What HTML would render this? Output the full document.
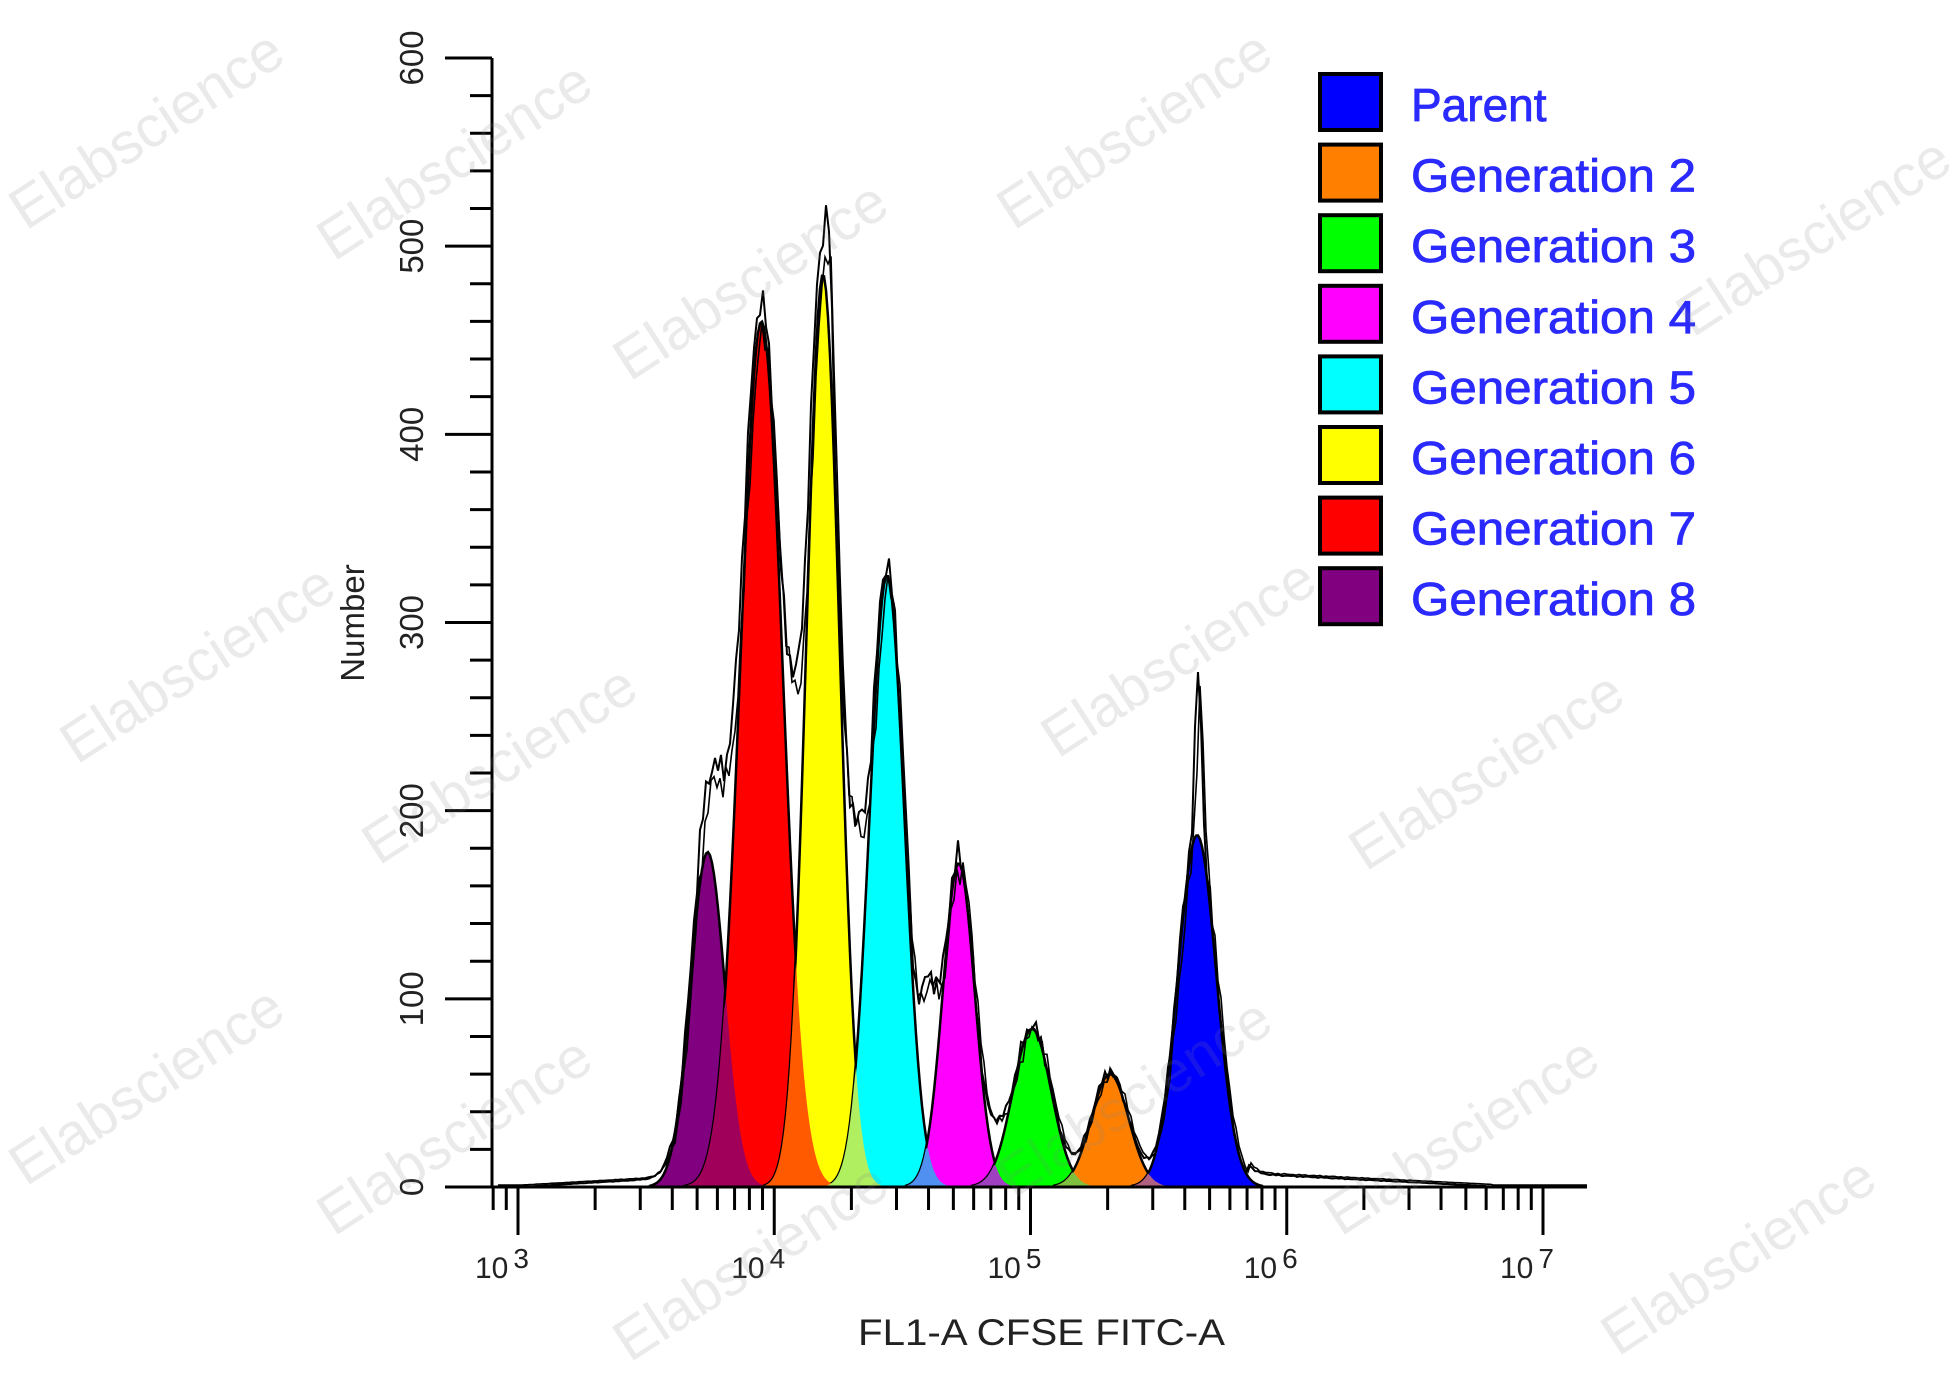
<!DOCTYPE html>
<html><head><meta charset="utf-8"><style>
html,body{margin:0;padding:0;background:#fff;}
svg{display:block}
text{font-family:"Liberation Sans",Arial,sans-serif}
</style></head><body>
<svg id="s" width="1950" height="1389" viewBox="0 0 1950 1389" xmlns="http://www.w3.org/2000/svg">
<rect width="1950" height="1389" fill="#fff"/>
<g id="plot"></g>
<g id="axes" stroke="#000" stroke-width="3" fill="none"></g>
<g id="lab" fill="#222"></g>
<g id="leg"></g>
<g id="wm" fill="#808080" fill-opacity="0.17" font-size="58"></g>
</svg>
<script>
(function(){
var NS="http://www.w3.org/2000/svg";
function el(p,t,a,txt){var e=document.createElementNS(NS,t);for(var k in a)e.setAttribute(k,a[k]);if(txt!=null)e.textContent=txt;document.getElementById(p).appendChild(e);return e;}
var X0=518,DEC=256.25,Y0=1187,YS=1.8817,AX0=492,AX1=1587;
function px(l){return X0+(l-3)*DEC;}
function lg(x){return 3+(x-X0)/DEC;}
function py(c){return Y0-c*YS;}
var P=[
 {c:3.74,h:178,s:0.067,col:"#800080"},
 {c:3.95,h:460,s:0.082,col:"#ff0000"},
 {c:4.19,h:485,s:0.064,col:"#ffff00"},
 {c:4.44,h:325,s:0.068,col:"#00ffff"},
 {c:4.72,h:172,s:0.062,col:"#ff00ff"},
 {c:5.006,h:84,s:0.075,col:"#00ff00"},
 {c:5.31,h:60,s:0.073,col:"#ff8000"},
 {c:5.65,h:187,s:0.075,col:"#0000ff"}];
var blend=["#a0005a","#ff5a00","#b0f060","#5090f0","#a040c0","#80c040","#b06080"];
function g(p,l){var d=(l-p.c)/p.s;return p.h*Math.exp(-0.5*d*d);}
var xs=[];for(var x=AX0+2;x<=AX1;x+=2)xs.push(x);
function poly(f,col,stroke){var xa=[];xs.forEach(function(x){var v=f(lg(x));if(v>0.5){xa.push(x);}});
 if(!xa.length)return;var a=xa[0],b=xa[xa.length-1];
 var d="M"+a+","+Y0;for(var x=a;x<=b;x+=2){d+=" L"+x+","+py(f(lg(x))).toFixed(1);}d+=" L"+b+","+Y0+"Z";
 el("plot","path",{d:d,fill:col,stroke:stroke?"#000":"none","stroke-width":stroke?2.5:0});}
P.forEach(function(p){poly(function(l){return g(p,l);},p.col,true);});
for(var i=0;i<P.length-1;i++){(function(a,b,c){poly(function(l){return Math.min(g(a,l),g(b,l));},c,false);})(P[i],P[i+1],blend[i]);}
function bump(l,c,s,h){return h*Math.exp(-0.5*Math.pow((l-c)/s,2));}
function env(l){var s=0;P.forEach(function(p){s+=g(p,l);});s*=1.02;
 s+=bump(l,3.76,0.05,18);
 s+=bump(l,4.215,0.012,45);
 s+=bump(l,5.655,0.012,85);
 s+=bump(l,4.07,0.025,30);
 s+=bump(l,4.32,0.03,65);
 s+=bump(l,4.6,0.03,65);
 s+=bump(l,4.87,0.03,10);
 var t=0;if(l>2.95&&l<3.6)t=Math.max(0,(l-3.0)*8);
 if(l>5.85&&l<6.8)t=Math.max(0,7-(l-5.85)*7);
 return s+t;}
var d1="",d2="",first=true;
for(var x=AX0+4;x<=AX1-2;x+=3){var l=lg(x);var v=env(l);var n=(Math.sin(x*1.7)*0.5+Math.sin(x*0.9))*Math.min(6,v*0.04);
 var y1=py(v+n),y2=py(v*0.96-n+1);
 d1+=(first?"M":" L")+x+","+y1.toFixed(1);d2+=(first?"M":" L")+(x+2)+","+y2.toFixed(1);first=false;}
el("plot","path",{d:d1,fill:"none",stroke:"#000","stroke-width":2});
el("plot","path",{d:d2,fill:"none",stroke:"#000","stroke-width":1.6});
el("axes","path",{d:"M"+AX0+",58 L"+AX0+","+Y0+" L"+AX1+","+Y0});
for(var c=0;c<=600;c+=20){var y=py(c);el("axes","line",{x1:(c%100==0?445:470),y1:y,x2:AX0,y2:y});}
for(var e=2;e<=7;e++){for(var m=1;m<=9;m++){var l=e+Math.log10(m);var x=px(l);if(x<AX0-1||x>AX1)continue;
 el("axes","line",{x1:x,y1:Y0,x2:x,y2:(m==1?1235:1210)});}}
for(var c=0;c<=600;c+=100){var y=py(c);el("lab","text",{x:0,y:0,"font-size":33,"text-anchor":"middle",transform:"translate(423,"+y+") rotate(-90)"},String(c));}
for(var e=3;e<=7;e++){var x=px(e);var t=el("lab","text",{x:x-43,y:1278,"font-size":30});
 var a=document.createElementNS(NS,"tspan");a.textContent="10";t.appendChild(a);
 var b=document.createElementNS(NS,"tspan");b.setAttribute("dx","5");b.setAttribute("dy","-10");b.setAttribute("font-size","28");b.textContent=String(e);t.appendChild(b);}
el("lab","text",{x:858,y:1345,"font-size":37,textLength:367,lengthAdjust:"spacingAndGlyphs"},"FL1-A CFSE FITC-A");
el("lab","text",{x:0,y:0,"font-size":33,"text-anchor":"middle",transform:"translate(364,623) rotate(-90)"},"Number");
var names=["Parent","Generation 2","Generation 3","Generation 4","Generation 5","Generation 6","Generation 7","Generation 8"];
var lc=["#0000ff","#ff8000","#00ff00","#ff00ff","#00ffff","#ffff00","#ff0000","#800080"];
for(var i=0;i<8;i++){var t=74+i*70.6;
 el("leg","rect",{x:1320,y:t,width:61,height:56,fill:lc[i],stroke:"#000","stroke-width":4});
 var tx=el("leg","text",{x:1411,y:t+47,"font-size":46,fill:"#2a2aff",stroke:"#2a2aff","stroke-width":0.8},names[i]);
 if(i>0){tx.setAttribute("textLength","285");tx.setAttribute("lengthAdjust","spacingAndGlyphs");}}
var W=[[157,126],[465,157],[761,277],[1145,126],[1824,233],[208,660],[510,761],[1189,654],[1497,767],[157,1082],[465,1132],[761,1258],[1145,1094],[1472,1132],[1749,1252]];
W.forEach(function(w){el("wm","text",{x:0,y:0,"text-anchor":"middle",transform:"translate("+w[0]+","+(w[1]+20)+") rotate(-33)"},"Elabscience");});
})();
</script>
</body></html>
